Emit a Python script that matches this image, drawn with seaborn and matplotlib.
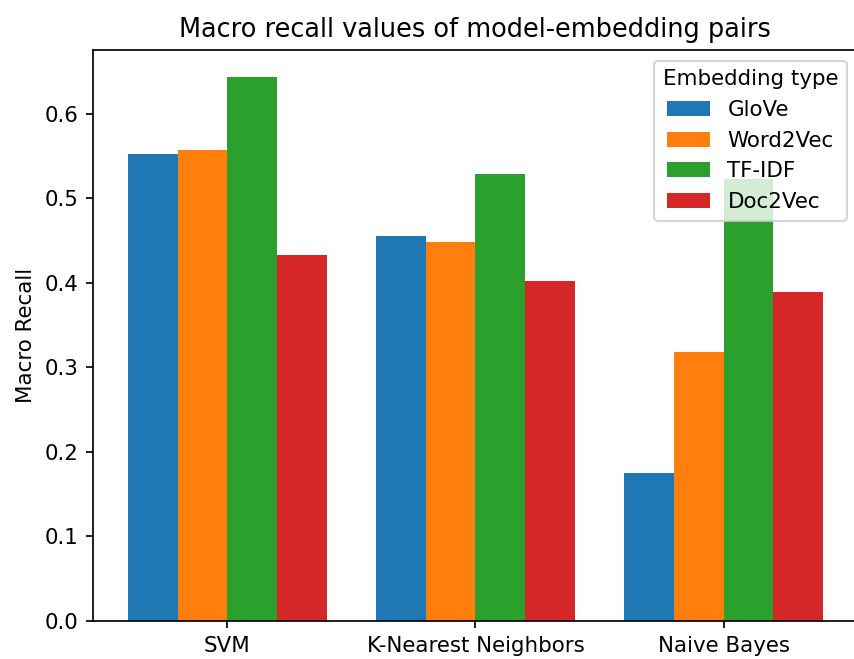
import pandas as pd
import seaborn as sns
from matplotlib import pyplot as plt

models = ["SVM", "K-Nearest Neighbors", "Naive Bayes"]
embeddings = ["GloVe", "Word2Vec", "TF-IDF", "Doc2Vec"]
glove = [0.552, 0.455, 0.175]
word2vec = [0.557, 0.448, 0.318]
tfidf = [0.643, 0.528, 0.522]
doc2vec = [0.433, 0.402, 0.389]

rows = []
for emb, vals in zip(embeddings, [glove, word2vec, tfidf, doc2vec]):
    for m, v in zip(models, vals):
        rows.append({"Model": m, "Embedding type": emb, "Macro Recall": v})
df = pd.DataFrame(rows)

dpi = 154
fig, ax = plt.subplots(figsize=(855 / dpi, 659 / dpi), dpi=dpi)
# the original image is cropped on the right, the axes run slightly past the edge
fig.subplots_adjust(left=0.1091, right=1.003, top=0.9241, bottom=0.0581)

sns.barplot(data=df, x="Model", y="Macro Recall", hue="Embedding type",
            palette="tab10", errorbar=None, saturation=1, width=0.8, ax=ax)

ax.set_xlim(-0.54, 2.54)
ax.set_xlabel("")
ax.set_ylabel("Macro Recall")
ax.set_title("Macro recall values of model-embedding pairs")
ax.legend(title="Embedding type", loc="upper right")

plt.savefig("out.png", dpi=dpi)
